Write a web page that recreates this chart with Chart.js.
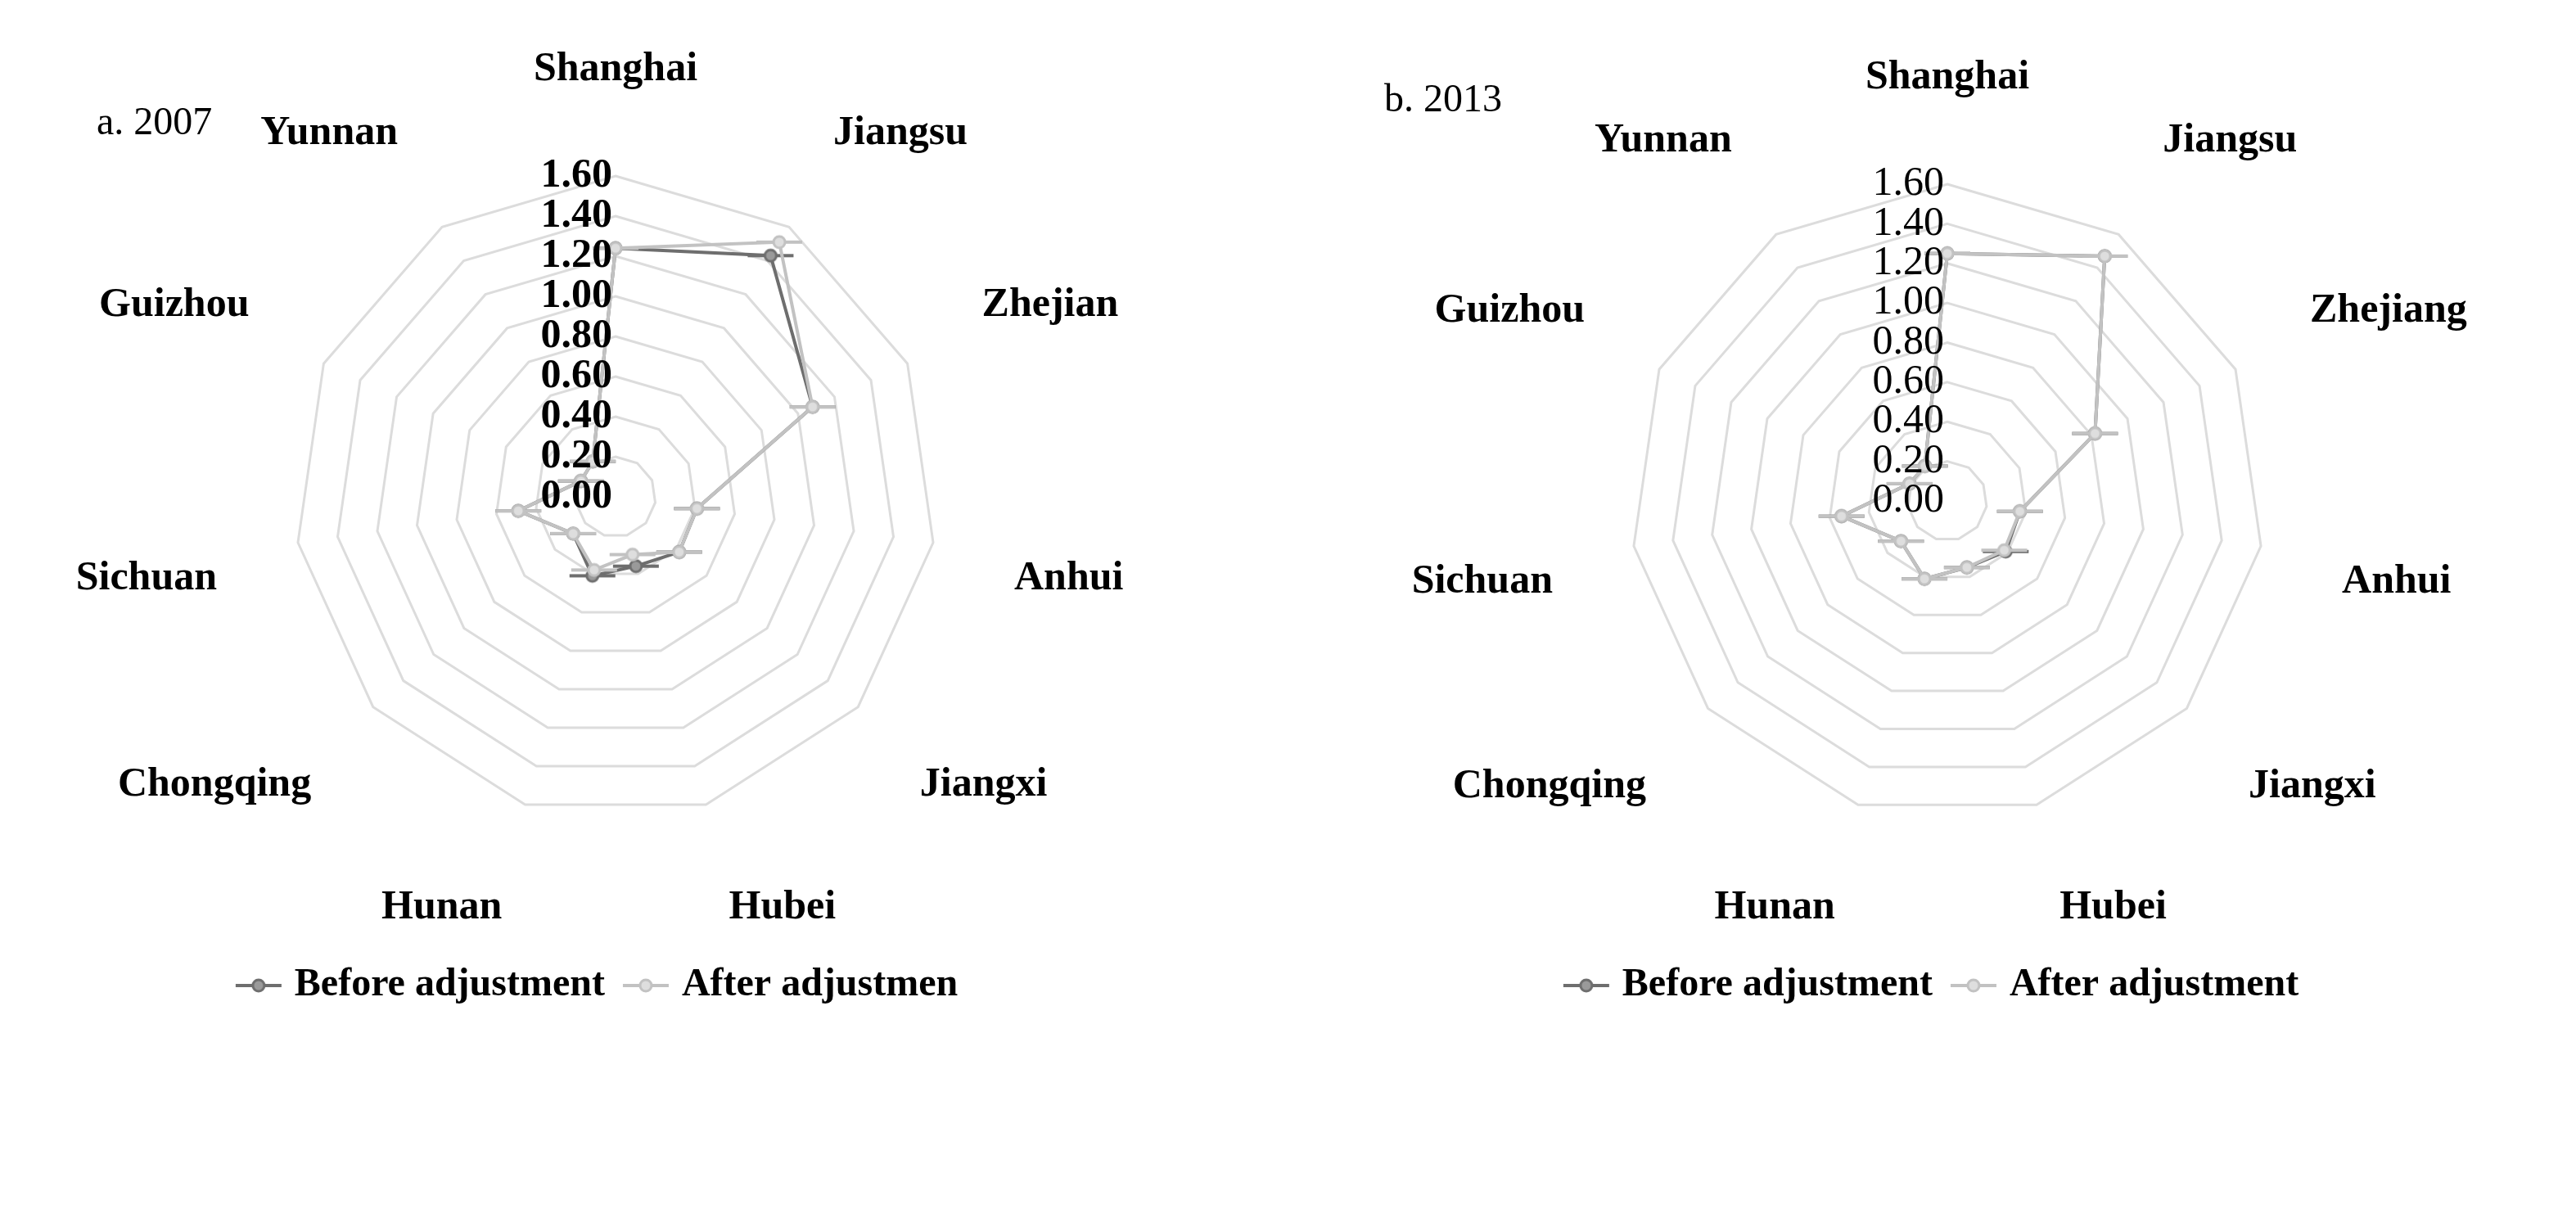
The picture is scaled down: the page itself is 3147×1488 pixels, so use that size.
<!DOCTYPE html>
<html>
<head>
<meta charset="utf-8">
<script src="https://cdn.jsdelivr.net/npm/chart.js@4.4.1/dist/chart.umd.min.js"></script>
<style>
  body { margin: 0; background: #fff; width: 3147px; height: 1488px; overflow: hidden; position: relative; }
  .panel { position: absolute; top: 0; width: 1573px; height: 1488px; }
  .title { position: absolute; font-family: "Liberation Serif", serif; font-size: 48px; color: #000; }
</style>
</head>
<body>
<div class="panel" style="left:0"><canvas id="chartA"></canvas><div class="title" style="left:118px;top:120px">a. 2007</div></div>
<div class="panel" style="left:1573px"><canvas id="chartB"></canvas><div class="title" style="left:118px;top:92px">b. 2013</div></div>
<script>
// provinces as shown on the axes (last letters clipped in the source)
const labelsA = ['Shanghai', 'Jiangsu', 'Zhejian', 'Anhui', 'Jiangxi', 'Hubei', 'Hunan', 'Chongqing', 'Sichuan', 'Guizhou', 'Yunnan'];
const labelsB = ['Shanghai', 'Jiangsu', 'Zhejiang', 'Anhui', 'Jiangxi', 'Hubei', 'Hunan', 'Chongqing', 'Sichuan', 'Guizhou', 'Yunnan'];

// 2007
const before2007 = [1.24, 1.43, 1.08, 0.41, 0.42, 0.36, 0.41, 0.28, 0.49, 0.19, 0.21];
const after2007  = [1.24, 1.51, 1.08, 0.41, 0.42, 0.30, 0.38, 0.28, 0.49, 0.19, 0.21];
// 2013
const before2013 = [1.25, 1.47, 0.82, 0.37, 0.39, 0.35, 0.41, 0.31, 0.54, 0.21, 0.21];
const after2013  = [1.25, 1.47, 0.82, 0.37, 0.38, 0.35, 0.41, 0.31, 0.54, 0.21, 0.21];

const tickValues = [0, 0.2, 0.4, 0.6, 0.8, 1.0, 1.2, 1.4, 1.6];

const darkGray = '#6e6e6e';
const lightGray = '#c2c2c2';

// legend marker: short line with a circle, like Excel
function legendIcon(color, fill) {
  const c = document.createElement('canvas');
  c.width = 60; c.height = 24;
  const g = c.getContext('2d');
  g.strokeStyle = color; g.lineWidth = 4;
  g.beginPath(); g.moveTo(2, 12); g.lineTo(58, 12); g.stroke();
  g.fillStyle = fill; g.lineWidth = 3;
  g.beginPath(); g.arc(30, 12, 7, 0, Math.PI * 2); g.fill(); g.stroke();
  return c;
}

// Excel-style tick labels, drawn left of the vertical axis
const leftTicks = {
  id: 'leftTicks',
  afterDraw(chart, args, opts) {
    const r = chart.scales.r;
    const ctx = chart.ctx;
    ctx.save();
    ctx.font = (opts.bold ? 'bold ' : '') + '50px "Liberation Serif", serif';
    ctx.fillStyle = '#000';
    ctx.textAlign = 'right';
    ctx.textBaseline = 'middle';
    tickValues.forEach(v => {
      const y = r.yCenter - r.getDistanceFromCenterForValue(v);
      ctx.fillText(v.toFixed(2), r.xCenter - 4, y);
    });
    ctx.restore();
  }
};

function makeChart(id, labels, before, after, afterName, boldTicks, pad) {
  new Chart(document.getElementById(id), {
    type: 'radar',
    data: {
      labels: labels,
      datasets: [
        { label: 'Before adjustment', data: before, order: 1, borderColor: darkGray,
          borderWidth: 4, pointRadius: 8, pointBorderWidth: 3, pointBackgroundColor: '#9a9a9a', pointBorderColor: darkGray,
          fill: false, pointStyle: legendIcon(darkGray, '#9a9a9a') },
        { label: afterName, data: after, order: 0, borderColor: lightGray,
          borderWidth: 4, pointRadius: 8, pointBorderWidth: 3, pointBackgroundColor: '#dedede', pointBorderColor: lightGray,
          fill: false, pointStyle: legendIcon(lightGray, '#dedede') }
      ]
    },
    options: {
      responsive: false,
      animation: false,
      devicePixelRatio: 1,
      layout: { padding: pad },
      elements: { point: { pointStyle: 'circle' } },
      scales: {
        r: {
          min: 0, max: 1.6,
          ticks: { stepSize: 0.2, display: false },
          grid: { color: '#dcdcdc', lineWidth: 3 },
          angleLines: { display: false },
          pointLabels: { font: { family: '"Liberation Serif", serif', size: 50, weight: 'bold' }, color: '#000', padding: 100 }
        }
      },
      plugins: {
        leftTicks: { bold: boldTicks },
        legend: {
          position: 'bottom',
          labels: {
            padding: 30,
            font: { family: '"Liberation Serif", serif', size: 48, weight: 'bold' }, color: '#000',
            generateLabels(chart) {
              return chart.data.datasets.map((d, i) => ({
                text: d.label, pointStyle: legendIcon(d.borderColor, d.pointBackgroundColor),
                datasetIndex: i, hidden: false, lineWidth: 0, strokeStyle: 'transparent', fillStyle: 'transparent'
              }));
            },
            usePointStyle: true
          }
        },
        tooltip: { enabled: false }
      }
    },
    plugins: [leftTicks]
  });
}

const cA = document.getElementById('chartA'); cA.width = 1573; cA.height = 1488;
const cB = document.getElementById('chartB'); cB.width = 1573; cB.height = 1488;
makeChart('chartA', labelsA, before2007, after2007, 'After adjustmen', true, { top: 45, bottom: 250, left: 10, right: 117 });
makeChart('chartB', labelsB, before2013, after2013, 'After adjustment', false, { top: 55, bottom: 250, left: 10, right: 3 });
</script>
</body>
</html>
